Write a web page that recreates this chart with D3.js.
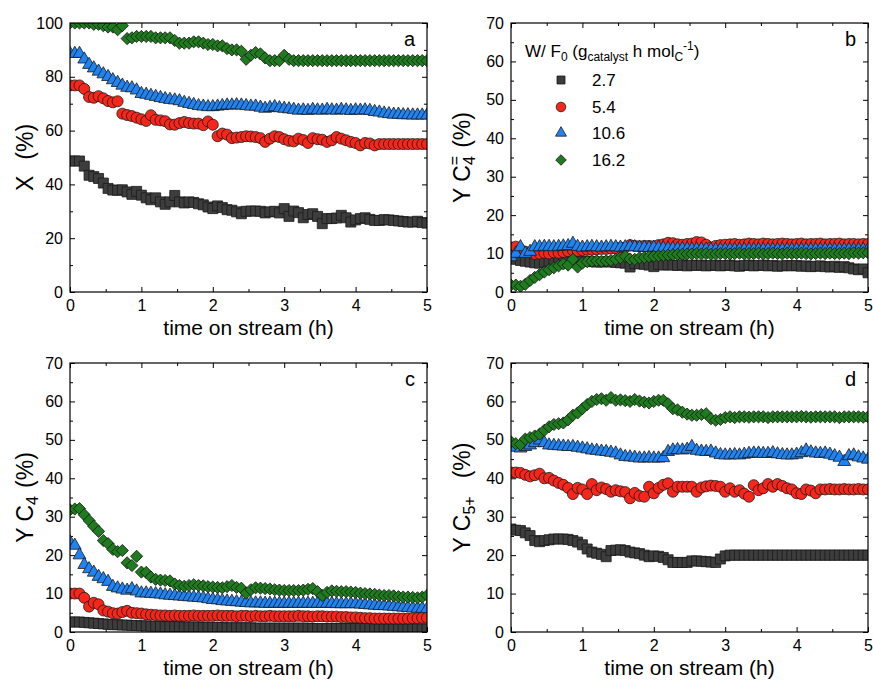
<!DOCTYPE html>
<html><head><meta charset="utf-8">
<script src="https://cdn.jsdelivr.net/npm/d3@7"></script>
<style>
body{margin:0;background:#fff;}
svg text{font-family:"Liberation Sans",Arial,sans-serif;fill:#000;}
</style></head><body>
<svg id="chart" width="873" height="682"></svg>
<script>
// ---------------- DATA ----------------
const time = [0,0.067,0.133,0.2,0.267,0.333,0.4,0.467,0.533,0.6,0.667,0.733,0.8,0.867,0.933,
 1,1.067,1.133,1.2,1.267,1.333,1.4,1.467,1.533,1.6,1.667,1.733,1.8,1.867,1.933,
 2,2.067,2.133,2.2,2.267,2.333,2.4,2.467,2.533,2.6,2.667,2.733,2.8,2.867,2.933,
 3,3.067,3.133,3.2,3.267,3.333,3.4,3.467,3.533,3.6,3.667,3.733,3.8,3.867,3.933,
 4,4.067,4.133,4.2,4.267,4.333,4.4,4.467,4.533,4.6,4.667,4.733,4.8,4.867,4.933,
 5];
const seriesNames = ["2.7","5.4","10.6","16.2"];
const xTickValues = [0,1,2,3,4,5];
const xMinorTicks = [0.5,1.5,2.5,3.5,4.5];
const yTicksA = [0,20,40,60,80,100];
const yMinorA = [10,30,50,70,90];
const yTicks70 = [0,10,20,30,40,50,60,70];
const yMinor70 = [5,15,25,35,45,55,65];

// panel a: conversion X (%)
const aSq = [48.7,48.7,48.7,46.8,43.4,42.9,42.2,40.5,38.5,37.9,37.8,38,37.2,36.3,37.4,
 36,35,34.3,35,33.5,32.6,33.5,35.9,33.5,33.1,33.5,33.3,32.8,32.4,31.6,
 31,32,31.4,30.6,30.4,29.8,29.1,30,30.1,30.1,30,29.4,29.8,30,29.4,
 31,28.1,30.1,29.5,27.6,28.8,29.1,28.1,25.4,27.3,27.3,27.5,28.5,27.6,26,
 26.8,27.3,27.6,27,26.6,26.6,26.9,26.8,26.6,26.4,26.2,26,26,26.3,25.8,
 25.6];
const aCi = [76.8,76.8,76.8,75.5,72.5,72.2,72.8,72,71,70.5,70.9,66.3,65.8,65.4,64.8,
 64.2,63.6,65.7,64,63.8,63.5,62.3,62.2,62.8,63.2,62.8,62.6,62.6,62,63.4,
 62.2,57.9,58.9,58.5,57.2,57.4,57.6,57.9,57.8,57.6,57.2,55.8,57,57.9,57.6,
 56.8,56.2,56,57,56.5,55.4,57.2,56.8,56.6,55.8,56.4,57.6,57,56.4,55.8,
 55.4,54.5,55.4,55.2,54.5,55,55,55,55,55,55,55,55,55,55,
 55];
const aTr = [88.6,88.6,88.6,86.5,84.5,83.2,82,81,80,78.8,77.8,76.8,76,75.8,75,
 73.7,73.4,73,72.6,72.2,71.8,71.5,71.3,71,70.4,70,69.6,69.2,69,68.8,
 68.8,69,69.2,69.4,69.4,69.5,69.4,69.2,69,69,68.6,68.2,68.5,68.8,68.4,
 68.2,68,67.8,67.5,67.6,67.4,67.8,67.6,67.5,67.8,67.6,67.5,67.8,67.6,67.4,
 67.6,67.5,67.6,67.4,67,66.8,66.4,66.2,66,66,65.8,65.8,65.7,65.7,65.7,
 65.7];
const aDi = [100,100,100,100,100,99.5,99.5,99,98.5,98.5,97.5,99,94.2,94.5,95,
 95,95,95,94.5,94.5,94.5,94.5,93.5,92.5,92.5,92.5,93,93,92.5,92,
 92,91.5,91.5,90.5,90,90,89.5,86.5,88,89,88.5,87,86,86,86,
 88,86.5,86,86,86,86,86,86,86,86,86,86,86,86,86,
 86,86,86,86,86,86,86,86,86,86,86,86,86,86,86,
 86];

// panel b: yield of butenes
const bSq = [8.7,8.5,8.2,8,7.8,7.6,7.5,7.8,8,8,8.1,8,8,8.1,8,
 8,8,7.9,7.8,7.8,7.9,7.8,7.7,7.6,7.5,6.5,7.4,7.3,7.2,7,
 6.6,7.2,7,7.1,7,6.9,7.1,6.8,7,6.9,7,6.8,6.9,7,6.8,
 6.9,7,6.8,6.7,6.9,7,6.8,6.9,7,6.8,6.9,6.7,6.8,6.9,6.8,
 6.9,6.7,6.8,6.6,6.7,6.8,6.6,6.5,6.7,6.4,6.6,6.3,6,5.8,6,
 5];
const bCi = [11.6,11.8,11,10.5,10.2,9.9,10,10.2,10,10.3,10.2,10.4,10.6,10.8,10.7,
 10.9,11,11,11.1,11.2,11.2,11.3,11.4,11.5,11.6,12.2,12,11.9,12,12,
 11.9,12.2,12.4,12.8,12.7,12.4,12.3,12.5,12.6,13,12.9,12.3,11.6,12,12.2,
 12.3,12.4,12.5,12.3,12.4,12.6,12.5,12.4,12.6,12.5,12.4,12.5,12.6,12.5,12.4,
 12.5,12.6,12.4,12.5,12.5,12.6,12.4,12.5,12.5,12.6,12.4,12.5,12.5,12.4,12.5,
 12.5];
const bTr = [9.1,10,11.7,10,10.5,11.7,11.7,11.8,11.8,11.7,11.8,11.9,12,12.6,11.8,
 11.6,11.7,11.8,11.7,11.6,11.7,11.8,11.7,11.6,11.7,11.8,11.7,11.6,11.6,11.5,
 11.6,11.5,11.4,11.3,11.3,11.2,11.2,11.2,11.1,11.1,11.1,11.1,11,11,11,
 11,11,11,11,11,11,11,11,11,11,11,11,11,11,11,
 11,11,11,11,11,11,11,11,11,11,11,11,11,11,11,
 11];
const bDi = [1.8,1.8,1.5,2,3,3.8,4.5,5.2,5.8,6.3,6.8,7.3,7,8.5,6.5,
 7.5,7.9,8,8.1,8,8.1,8.2,8.5,8.9,9.3,8.6,8.5,8.9,9,9.2,
 9.3,9.4,9.5,9.6,9.7,9.8,9.8,9.9,9.9,10,9.9,10,9.8,9.9,10,
 10,9.9,10,10.1,9.9,10,10,10.1,9.9,10,10.1,10,9.9,10.1,10,
 10,10.1,10,9.9,10,10.1,10,10.1,10,10,10.1,10,10.2,10.1,10.2,
 10.2];

// panel c: yield of butanes
const cSq = [2.6,2.6,2.6,2.5,2.4,2.3,2.2,2.1,2,1.9,1.9,1.8,1.8,1.7,1.7,
 1.6,1.6,1.5,1.5,1.5,1.4,1.4,1.4,1.4,1.3,1.3,1.3,1.3,1.2,1.2,
 1.2,1.2,1.2,1.1,1.1,1.1,1.1,1.1,1.1,1,1,1,1,1,1,
 1,1,1,1,1,1,0.9,0.9,0.9,0.9,0.9,0.9,0.9,0.9,0.9,
 0.9,0.9,0.9,0.9,0.8,0.8,0.8,0.8,0.8,0.8,0.8,0.8,0.8,0.8,0.8,
 0.8];
const cCi = [10,10,10,8.9,6.6,7.6,7.2,5.6,5.3,4.9,4.8,5.2,5.5,5,4.9,
 4.8,4.6,4.5,4.4,4.3,4.3,4.2,4.3,4.2,4.2,4.2,4.3,4.2,4.2,4.2,
 4.2,4.3,4.2,4.2,4.2,4.1,4.2,4.2,4.1,4.2,4.1,4.1,4.2,4.1,4.1,
 4.1,4.1,4.1,4.2,4.1,4.1,4,4.1,4.1,4,4,4,3.9,3.9,3.8,
 3.8,3.7,3.6,3.6,3.5,3.5,3.5,3.5,3.5,3.5,3.5,3.5,3.6,3.6,3.7,
 3.7];
const cTr = [23.4,22.5,20,17.5,16.4,15.5,14.4,13.8,13.1,11.8,11.4,11.1,10.8,11.2,10.6,
 10.1,10.1,10,9.9,9.8,9.6,9.5,9.4,9.3,9.2,9.1,9,8.9,8.8,8.6,
 8.4,8.3,8.1,8,7.9,7.8,7.7,7.6,7.5,7.5,7.5,7.4,7.4,7.4,7.4,
 7.4,7.4,7.4,7.4,7.4,7.4,7.4,7.4,7.4,7.4,7.4,7.3,7.3,7.3,7.3,
 7.3,7.2,7.1,7,6.9,6.8,6.8,6.7,6.6,6.5,6.4,6.3,6.2,6.1,6.1,
 6];
const cDi = [31.8,32,32.1,30.5,29,27.5,26.2,23.8,23,21.5,20.9,21.2,18,17.3,19.7,
 15.6,15.5,14.3,13.7,13.5,13.4,13.3,12.5,12.1,11.9,12.1,12.3,12.1,12,11.8,
 11.7,11.6,11.5,11.8,12.1,11.6,11.4,10.1,11,11.5,11.4,11.3,11.2,11,10.9,
 10.8,10.8,10.8,10.8,10.9,11.1,11.3,10.5,9.5,10.3,10.7,10.6,10.5,10.5,10.4,
 10.3,10.1,10,9.9,9.8,9.6,9.5,9.5,9.4,9.2,9.1,9.1,9,8.9,9.1,
 9.5];

// panel d: yield of C5+
const dSq = [26.8,26.5,26.4,25.8,25.1,23.8,23.5,23.8,24,24.2,24.2,24.2,24.1,23.8,23.4,
 22.7,21.6,20.8,20.5,20.2,19.6,21.2,21.3,21.4,21.2,20.8,20.6,20.4,20,19.6,
 19.8,19.7,19.4,18.8,18.1,18.1,18.1,18.1,18.5,18.5,18.4,18.3,18.2,18.1,19,
 19.8,20,20,20,20,20,20,20,20,20,20,20,20,20,20,
 20,20,20,20,20,20,20,20,20,20,20,20,20,20,20,
 20];
const dCi = [41.5,41.5,41.4,40.9,40.5,40.8,41.2,40,40.1,39.4,38.8,38.3,37.5,35.9,37.5,
 37.1,35.9,38.5,36.9,37.6,37.2,36.5,36.9,36.6,36.4,34.8,36.2,35.4,35.2,37.8,
 36.1,37.5,38.3,38.7,36.5,37.8,37.8,37.8,37.8,36.5,37.6,37.9,38.1,38,37.8,
 36.5,37.4,36.5,36.9,36,35.2,38.2,36.9,37.4,38.5,37.8,38.5,38,37.4,37.1,
 36.1,35.9,37.1,36.8,36.1,37.1,37.1,37.2,37.1,37.1,37.2,37.1,37.1,37.2,37.1,
 37.1];
const dTr = [48.2,48,47.8,48.2,48.6,49.2,49.9,49.2,48.6,48.5,48.4,48.3,48.2,48.2,48,
 47.8,47.6,47.3,47.2,47,46.9,46.7,46.5,46,45.6,45.5,45.4,45.2,45.2,45.3,
 45.2,45.2,45.3,46.9,47.3,47.4,47.3,47.5,48.2,47.2,47,46.9,47,46.5,46.1,
 46,46,46.1,46,46.2,46.4,46.5,46.5,46.4,46.4,46.6,46.3,46.1,46,46,
 46.2,46.6,47.3,46.8,46.5,46.4,46.5,46.2,45.8,45.4,44.3,45.8,46,45.5,45.2,
 44.9];
const dDi = [49.5,49,48.8,50.2,50.6,51,51.5,52.5,53.4,54,54.2,54.4,55.2,56.4,57,
 58.1,59.2,60,60.5,60.7,60.3,61,60.3,60.4,60.2,60,60.5,60.1,59.8,59.6,
 60,60.3,60.3,59.4,58.1,57.8,57.2,56.7,56.4,56.4,56.6,56.8,55.5,55.1,55.3,
 55.8,56,55.8,56,56,55.9,56,56,56,55.8,56,56,56,56,56,
 56,56.1,56,55.9,56,56,56,56,56,55.8,56,56,56,56,55.9,
 56];

// ---------------- STYLE ----------------
const fills = ["#3d3d3d","#f7261b","#1f83f2","#1e7b1e"];
const strokeCol = "#1a1a1a";
const symTypes = [d3.symbolSquare, d3.symbolCircle, d3.symbolTriangle, d3.symbolSquare];
const symSizes = [100, 95, 72, 74];
const symRot = [0,0,0,45];
const legSizes = [64, 72, 52, 56];

const svg = d3.select("#chart");
const FONT = '"Liberation Sans", Arial, sans-serif';

const panels = [
 {key:"a", left:70, right:427, top:23, bottom:292, ymax:100, ticks:yTicksA, minor:yMinorA,
  data:[aSq,aCi,aTr,aDi], titleX:25},
 {key:"b", left:511, right:868, top:23, bottom:292, ymax:70, ticks:yTicks70, minor:yMinor70,
  data:[bSq,bCi,bTr,bDi], titleX:462},
 {key:"c", left:70, right:427, top:363, bottom:632, ymax:70, ticks:yTicks70, minor:yMinor70,
  data:[cSq,cCi,cTr,cDi], titleX:25},
 {key:"d", left:511, right:868, top:363, bottom:632, ymax:70, ticks:yTicks70, minor:yMinor70,
  data:[dSq,dCi,dTr,dDi], titleX:462}
];

function styleAxis(g, size){
  g.attr("font-family", FONT).attr("font-size", size);
  g.select(".domain").remove();
  g.selectAll(".tick line").attr("stroke","#000").attr("stroke-width",1);
  g.selectAll(".tick text").attr("fill","#000");
}

panels.forEach(p => {
  const x = d3.scaleLinear().domain([0,5]).range([p.left,p.right]);
  const y = d3.scaleLinear().domain([0,p.ymax]).range([p.bottom,p.top]);
  const g = svg.append("g");

  const clipId = "clip-"+p.key;
  svg.append("clipPath").attr("id",clipId).append("rect")
    .attr("x",p.left).attr("y",p.top).attr("width",p.right-p.left).attr("height",p.bottom-p.top);

  // axes: bottom with labels
  g.append("g").attr("transform",`translate(0,${p.bottom})`)
    .call(d3.axisBottom(x).tickValues(xTickValues).tickSizeInner(-5).tickSizeOuter(0).tickPadding(8).tickFormat(d3.format("d")))
    .call(a=>styleAxis(a,16));
  g.append("g").attr("transform",`translate(0,${p.bottom})`)
    .call(d3.axisBottom(x).tickValues(xMinorTicks).tickSizeInner(-3).tickSizeOuter(0).tickFormat(""))
    .call(a=>styleAxis(a,16));
  // top
  g.append("g").attr("transform",`translate(0,${p.top})`)
    .call(d3.axisTop(x).tickValues(xTickValues).tickSizeInner(-5).tickSizeOuter(0).tickFormat(""))
    .call(a=>styleAxis(a,16));
  g.append("g").attr("transform",`translate(0,${p.top})`)
    .call(d3.axisTop(x).tickValues(xMinorTicks).tickSizeInner(-3).tickSizeOuter(0).tickFormat(""))
    .call(a=>styleAxis(a,16));
  // left
  g.append("g").attr("transform",`translate(${p.left},0)`)
    .call(d3.axisLeft(y).tickValues(p.ticks).tickSizeInner(-5).tickSizeOuter(0).tickPadding(7).tickFormat(d3.format("d")))
    .call(a=>styleAxis(a,16));
  g.append("g").attr("transform",`translate(${p.left},0)`)
    .call(d3.axisLeft(y).tickValues(p.minor).tickSizeInner(-3).tickSizeOuter(0).tickFormat(""))
    .call(a=>styleAxis(a,16));
  // right
  g.append("g").attr("transform",`translate(${p.right},0)`)
    .call(d3.axisRight(y).tickValues(p.ticks).tickSizeInner(-5).tickSizeOuter(0).tickFormat(""))
    .call(a=>styleAxis(a,16));
  g.append("g").attr("transform",`translate(${p.right},0)`)
    .call(d3.axisRight(y).tickValues(p.minor).tickSizeInner(-3).tickSizeOuter(0).tickFormat(""))
    .call(a=>styleAxis(a,16));

  // markers
  const mg = g.append("g").attr("clip-path",`url(#${clipId})`);
  p.data.forEach((vals, si) => {
    const sym = d3.symbol().type(symTypes[si]).size(symSizes[si]);
    mg.append("g").selectAll("path").data(vals).join("path")
      .attr("d", sym)
      .attr("transform",(v,i)=>`translate(${x(time[i])},${y(v)}) rotate(${symRot[si]})`)
      .attr("fill", fills[si]).attr("stroke", strokeCol).attr("stroke-width",0.8);
  });

  // frame
  g.append("rect").attr("x",p.left).attr("y",p.top)
    .attr("width",p.right-p.left).attr("height",p.bottom-p.top)
    .attr("fill","none").attr("stroke","#000").attr("stroke-width",1.2);

  // x title
  g.append("text").attr("x",(p.left+p.right)/2).attr("y",p.bottom+43)
    .attr("text-anchor","middle").attr("font-size",21).text("time on stream (h)");

  // panel letter
  g.append("text").attr("x",p.right-12).attr("y",p.top+23)
    .attr("text-anchor","end").attr("font-size",20).text(p.key);

  // y title
  const t = g.append("text")
    .attr("transform",`translate(${p.titleX},${(p.top+p.bottom)/2}) rotate(-90)`)
    .attr("text-anchor","middle").attr("dy","0.35em").attr("font-size",23);
  if (p.key==="a") {
    t.append("tspan").text("X");
    t.append("tspan").attr("dx",16).text("(%)");
  } else if (p.key==="b") {
    t.append("tspan").text("Y C");
    t.append("tspan").attr("font-size",16).attr("dy",5).text("4");
    t.append("tspan").attr("font-size",16).attr("dx",-9).attr("dy",-15).text("=");
    t.append("tspan").attr("dx",8).attr("dy",10).text("(%)");
  } else if (p.key==="c") {
    t.append("tspan").text("Y C");
    t.append("tspan").attr("font-size",16).attr("dy",5).text("4");
    t.append("tspan").attr("dx",8).attr("dy",-5).text("(%)");
  } else {
    t.append("tspan").text("Y C");
    t.append("tspan").attr("font-size",16).attr("dy",5).text("5+");
    t.append("tspan").attr("dx",18).attr("dy",-5).text("(%)");
  }
});

// legend in panel b
const leg = svg.append("g");
const lt = leg.append("text").attr("x",525).attr("y",57).attr("font-size",17);
lt.append("tspan").text("W/ F");
lt.append("tspan").attr("font-size",12).attr("dy",4).text("0");
lt.append("tspan").attr("dy",-4).text(" (g");
lt.append("tspan").attr("font-size",12).attr("dy",4).text("catalyst");
lt.append("tspan").attr("dy",-4).text(" h mol");
lt.append("tspan").attr("font-size",12).attr("dy",4).text("C");
lt.append("tspan").attr("font-size",12).attr("dy",-11).text("-1");
lt.append("tspan").attr("dy",7).text(")");

const legRowsY = [80,107,133,160];
seriesNames.forEach((name, si) => {
  const sym = d3.symbol().type(symTypes[si]).size(legSizes[si]);
  leg.append("path").attr("d",sym)
    .attr("transform",`translate(561,${legRowsY[si]}) rotate(${symRot[si]})`)
    .attr("fill",fills[si]).attr("stroke",strokeCol).attr("stroke-width",0.8);
  leg.append("text").attr("x",592).attr("y",legRowsY[si]+6).attr("font-size",17).text(name);
});
</script>
</body></html>
